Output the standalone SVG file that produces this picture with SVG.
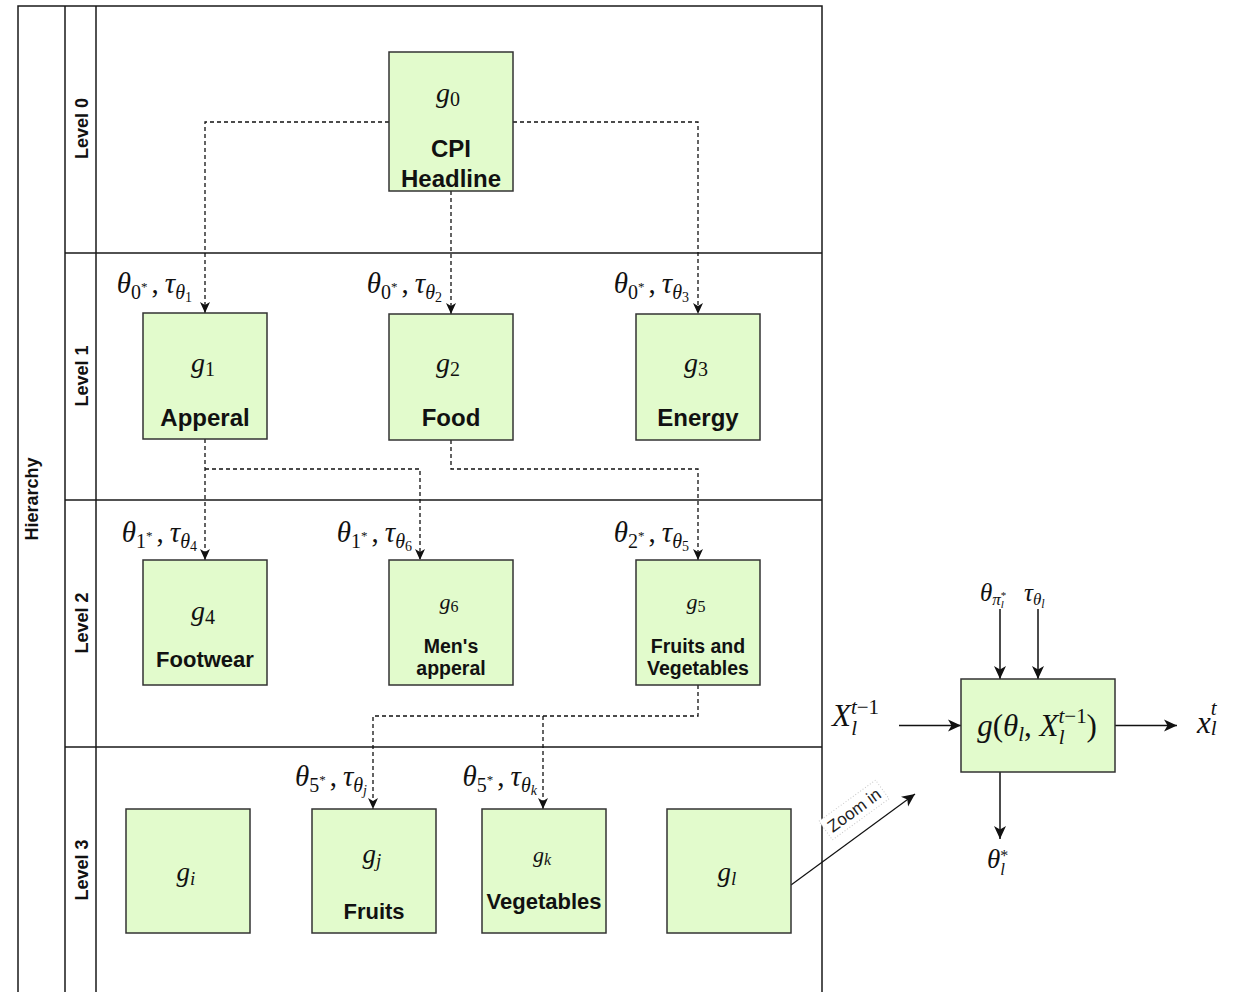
<svg xmlns="http://www.w3.org/2000/svg" width="1237" height="992" viewBox="0 0 1237 992">
  <defs>
    <style>
      .frame{fill:none;stroke:#1a1a1a;stroke-width:1.5}
      .node rect{fill:#e2fbcc;stroke:#333;stroke-width:1.5}
      .lbl{font-family:"Liberation Sans",Arial,sans-serif;font-weight:bold;fill:#111;text-anchor:middle}
      .lane{font-family:"Liberation Sans",Arial,sans-serif;font-weight:bold;font-size:18px;fill:#111;text-anchor:middle}
      .m{font-family:"Liberation Serif","Times New Roman",serif;font-style:italic;fill:#111}
      .u{font-style:normal}
      .dash{fill:none;stroke:#111;stroke-width:1.3;stroke-dasharray:4 3;marker-end:url(#ah)}
      .solid{fill:none;stroke:#111;stroke-width:1.5;marker-end:url(#ahL)}
    </style>
    <marker id="ah" markerUnits="userSpaceOnUse" viewBox="0 0 12 12" markerWidth="12" markerHeight="12" refX="11" refY="6" orient="auto">
      <path d="M0,1 L11,6 L0,11 L3,6 Z" fill="#111" stroke="none"/>
    </marker>
    <marker id="ahL" markerUnits="userSpaceOnUse" viewBox="0 0 14 14" markerWidth="14" markerHeight="14" refX="13" refY="7" orient="auto">
      <path d="M0,1 L13,7 L0,13 L3.5,7 Z" fill="#111" stroke="none"/>
    </marker>
  </defs>

  <rect width="1237" height="992" fill="#fff"/>

  <!-- pool and swimlanes -->
  <g id="pool">
    <path class="frame" d="M18,994 V6 H822 V994 M65,6 V994 M96,6 V994 M65,253 H822 M65,500 H822 M65,747 H822"/>
    <text class="lane" transform="translate(38,499) rotate(-90)">Hierarchy</text>
    <text class="lane" transform="translate(88,128.5) rotate(-90)">Level 0</text>
    <text class="lane" transform="translate(88,376) rotate(-90)">Level 1</text>
    <text class="lane" transform="translate(88,623) rotate(-90)">Level 2</text>
    <text class="lane" transform="translate(88,870) rotate(-90)">Level 3</text>
  </g>

  <!-- connectors -->
  <g id="connectors">
    <path class="dash" d="M389,122 H205 V313"/>
    <path class="dash" d="M513,122 H698 V314"/>
    <path class="dash" d="M451,191 V314"/>
    <path class="dash" d="M205,439 V560"/>
    <path class="dash" d="M205,469 H420 V560"/>
    <path class="dash" d="M451,440 V469 H698 V560"/>
    <path class="dash" d="M698,685 V716 H373 V809"/>
    <path class="dash" d="M543,716 V809"/>
    <path class="solid" style="stroke-width:1.2" d="M791,885 L915,794"/>
    <path class="solid" d="M899,725.5 H961"/>
    <path class="solid" d="M1115,725.5 H1177"/>
    <path class="solid" d="M1000,609 V679"/>
    <path class="solid" d="M1038,609 V679"/>
    <path class="solid" d="M1000,772 V839"/>
  </g>

  <!-- edge labels -->
  <g id="edge-labels">
    <text class="m" x="192" y="293" text-anchor="end" font-size="29">θ<tspan class="u" font-size="20" dy="6">0</tspan><tspan class="u" font-size="13" dy="-8">*</tspan><tspan class="u" dy="2" dx="4">,</tspan><tspan dx="6">τ</tspan><tspan font-size="20" dy="6">θ</tspan><tspan class="u" font-size="14" dy="3">1</tspan></text>
    <text class="m" x="442" y="293" text-anchor="end" font-size="29">θ<tspan class="u" font-size="20" dy="6">0</tspan><tspan class="u" font-size="13" dy="-8">*</tspan><tspan class="u" dy="2" dx="4">,</tspan><tspan dx="6">τ</tspan><tspan font-size="20" dy="6">θ</tspan><tspan class="u" font-size="14" dy="3">2</tspan></text>
    <text class="m" x="689" y="293" text-anchor="end" font-size="29">θ<tspan class="u" font-size="20" dy="6">0</tspan><tspan class="u" font-size="13" dy="-8">*</tspan><tspan class="u" dy="2" dx="4">,</tspan><tspan dx="6">τ</tspan><tspan font-size="20" dy="6">θ</tspan><tspan class="u" font-size="14" dy="3">3</tspan></text>

    <text class="m" x="197" y="542" text-anchor="end" font-size="29">θ<tspan class="u" font-size="20" dy="6">1</tspan><tspan class="u" font-size="13" dy="-8">*</tspan><tspan class="u" dy="2" dx="4">,</tspan><tspan dx="6">τ</tspan><tspan font-size="20" dy="6">θ</tspan><tspan class="u" font-size="14" dy="3">4</tspan></text>
    <text class="m" x="412" y="542" text-anchor="end" font-size="29">θ<tspan class="u" font-size="20" dy="6">1</tspan><tspan class="u" font-size="13" dy="-8">*</tspan><tspan class="u" dy="2" dx="4">,</tspan><tspan dx="6">τ</tspan><tspan font-size="20" dy="6">θ</tspan><tspan class="u" font-size="14" dy="3">6</tspan></text>
    <text class="m" x="689" y="542" text-anchor="end" font-size="29">θ<tspan class="u" font-size="20" dy="6">2</tspan><tspan class="u" font-size="13" dy="-8">*</tspan><tspan class="u" dy="2" dx="4">,</tspan><tspan dx="6">τ</tspan><tspan font-size="20" dy="6">θ</tspan><tspan class="u" font-size="14" dy="3">5</tspan></text>

    <text class="m" x="367" y="786" text-anchor="end" font-size="29">θ<tspan class="u" font-size="20" dy="6">5</tspan><tspan class="u" font-size="13" dy="-8">*</tspan><tspan class="u" dy="2" dx="4">,</tspan><tspan dx="6">τ</tspan><tspan font-size="20" dy="6">θ</tspan><tspan font-size="14" dy="3">j</tspan></text>
    <text class="m" x="537" y="786" text-anchor="end" font-size="29">θ<tspan class="u" font-size="20" dy="6">5</tspan><tspan class="u" font-size="13" dy="-8">*</tspan><tspan class="u" dy="2" dx="4">,</tspan><tspan dx="6">τ</tspan><tspan font-size="20" dy="6">θ</tspan><tspan font-size="14" dy="3">k</tspan></text>

    <g transform="translate(854,810) rotate(-36)">
      <rect x="-35" y="-11.5" width="70" height="23" fill="#fff" stroke="#c8c8c8" stroke-width="1" stroke-dasharray="1 2"/>
      <text x="0" y="6" font-family="Liberation Sans, Arial, sans-serif" font-size="17" fill="#222" text-anchor="middle">Zoom in</text>
    </g>
  </g>

  <!-- level 0 -->
  <g id="node-g0" class="node">
    <rect x="389" y="52" width="124" height="139"/>
    <text class="m" x="448" y="102" text-anchor="middle" font-size="28">g<tspan class="u" font-size="20" dy="4">0</tspan></text>
    <text class="lbl" x="451" y="157" font-size="24">CPI</text>
    <text class="lbl" x="451" y="187" font-size="24">Headline</text>
  </g>

  <!-- level 1 -->
  <g id="node-g1" class="node">
    <rect x="143" y="313" width="124" height="126"/>
    <text class="m" x="203" y="372" text-anchor="middle" font-size="28">g<tspan class="u" font-size="20" dy="4">1</tspan></text>
    <text class="lbl" x="205" y="426" font-size="24">Apperal</text>
  </g>
  <g id="node-g2" class="node">
    <rect x="389" y="314" width="124" height="126"/>
    <text class="m" x="448" y="372" text-anchor="middle" font-size="28">g<tspan class="u" font-size="20" dy="4">2</tspan></text>
    <text class="lbl" x="451" y="426" font-size="24">Food</text>
  </g>
  <g id="node-g3" class="node">
    <rect x="636" y="314" width="124" height="126"/>
    <text class="m" x="696" y="372" text-anchor="middle" font-size="28">g<tspan class="u" font-size="20" dy="4">3</tspan></text>
    <text class="lbl" x="698" y="426" font-size="24">Energy</text>
  </g>

  <!-- level 2 -->
  <g id="node-g4" class="node">
    <rect x="143" y="560" width="124" height="125"/>
    <text class="m" x="203" y="620" text-anchor="middle" font-size="28">g<tspan class="u" font-size="20" dy="4">4</tspan></text>
    <text class="lbl" x="205" y="667" font-size="22">Footwear</text>
  </g>
  <g id="node-g6" class="node">
    <rect x="389" y="560" width="124" height="125"/>
    <text class="m" x="449" y="609" text-anchor="middle" font-size="22">g<tspan class="u" font-size="16" dy="3">6</tspan></text>
    <text class="lbl" x="451" y="653" font-size="19.5">Men's</text>
    <text class="lbl" x="451" y="675" font-size="19.5">apperal</text>
  </g>
  <g id="node-g5" class="node">
    <rect x="636" y="560" width="124" height="125"/>
    <text class="m" x="696" y="609" text-anchor="middle" font-size="22">g<tspan class="u" font-size="16" dy="3">5</tspan></text>
    <text class="lbl" x="698" y="653" font-size="19.5">Fruits and</text>
    <text class="lbl" x="698" y="675" font-size="19.5">Vegetables</text>
  </g>

  <!-- level 3 -->
  <g id="node-gi" class="node">
    <rect x="126" y="809" width="124" height="124"/>
    <text class="m" x="186" y="881" text-anchor="middle" font-size="27">g<tspan font-size="19" dy="4">i</tspan></text>
  </g>
  <g id="node-gj" class="node">
    <rect x="312" y="809" width="124" height="124"/>
    <text class="m" x="372" y="863" text-anchor="middle" font-size="27">g<tspan font-size="19" dy="4">j</tspan></text>
    <text class="lbl" x="374" y="919" font-size="22">Fruits</text>
  </g>
  <g id="node-gk" class="node">
    <rect x="482" y="809" width="124" height="124"/>
    <text class="m" x="542" y="862" text-anchor="middle" font-size="22">g<tspan font-size="16" dy="3">k</tspan></text>
    <text class="lbl" x="544" y="909" font-size="22">Vegetables</text>
  </g>
  <g id="node-gl" class="node">
    <rect x="667" y="809" width="124" height="124"/>
    <text class="m" x="727" y="881" text-anchor="middle" font-size="27">g<tspan font-size="19" dy="4">l</tspan></text>
  </g>

  <!-- detail of a single node -->
  <g id="node-detail" class="node">
    <rect x="961" y="679" width="154" height="93"/>
    <text class="m" x="1037" y="736" text-anchor="middle" font-size="31">g<tspan class="u">(</tspan>θ<tspan font-size="21" dy="5">l</tspan><tspan class="u" dy="-5">, </tspan>X<tspan font-size="21" dy="-13">t</tspan><tspan class="u" font-size="21">−1</tspan><tspan font-size="21" dy="21" dx="-28">l</tspan><tspan class="u" dy="-8" dx="22">)</tspan></text>
  </g>
  <g id="detail-labels">
    <text class="m" x="832" y="726" font-size="31">X<tspan font-size="21" dy="-12">t</tspan><tspan class="u" font-size="21">−1</tspan><tspan font-size="21" dy="21" dx="-28">l</tspan></text>
    <text class="m" x="1197" y="733" font-size="31">x<tspan font-size="21" dy="-18">t</tspan><tspan font-size="21" dy="20" dx="-5.8">l</tspan></text>
    <text class="m" x="980" y="601" font-size="25">θ<tspan font-size="17" dy="4">π</tspan><tspan class="u" font-size="11" dy="-6">*</tspan><tspan font-size="11" dy="9" dx="-5.5">l</tspan></text>
    <text class="m" x="1024" y="601" font-size="25">τ<tspan font-size="17" dy="4">θ</tspan><tspan font-size="12" dy="3">l</tspan></text>
    <text class="m" x="987" y="868" font-size="27">θ<tspan class="u" font-size="16" dy="-7">*</tspan><tspan font-size="17" dy="14" dx="-8">l</tspan></text>
  </g>
</svg>
